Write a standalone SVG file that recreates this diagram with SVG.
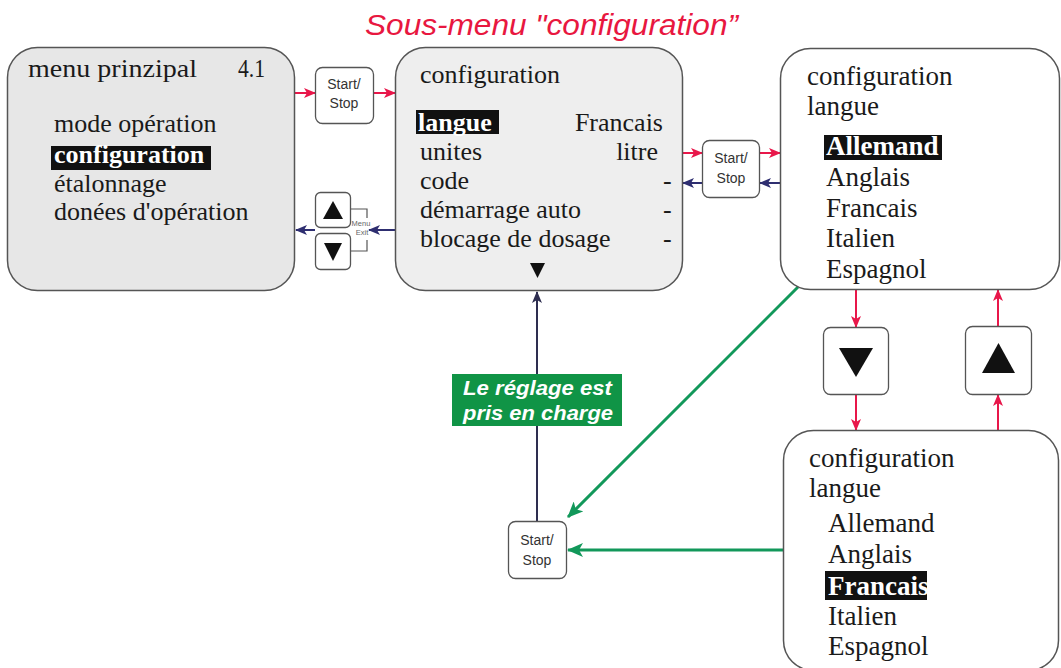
<svg xmlns="http://www.w3.org/2000/svg" width="1061" height="668" viewBox="0 0 1061 668">
<defs>
<style>
.box{stroke:#555;stroke-width:1.5}
.btn{fill:#fff;stroke:#555;stroke-width:1.3}
.t{fill:#1a1a1a}
.t26{font-size:26px}
.t27{font-size:27px}
.hl{fill:#111}
.hlt{fill:#fff;font-weight:bold}
.bt{font-family:'Liberation Sans',Arial,sans-serif;font-size:14px;fill:#333;text-anchor:middle}
.red{stroke:#e8174a;stroke-width:2;fill:none}
.blue{stroke:#2e2e70;stroke-width:2;fill:none}
.green{stroke:#12985a;stroke-width:3;fill:none}
.navy{stroke:#2e2e50;stroke-width:2;fill:none}
</style>
<marker id="aR" viewBox="0 0 12 10" refX="11" refY="5" markerWidth="12" markerHeight="10" markerUnits="userSpaceOnUse" orient="auto">
<path d="M0,0 L12,5 L0,10 L3,5 Z" fill="#e8174a"/>
</marker>
<marker id="aB" viewBox="0 0 12 10" refX="11" refY="5" markerWidth="12" markerHeight="10" markerUnits="userSpaceOnUse" orient="auto">
<path d="M0,0 L12,5 L0,10 L3,5 Z" fill="#2e2e70"/>
</marker>
<marker id="aN" viewBox="0 0 12 10" refX="11" refY="5" markerWidth="12" markerHeight="10" markerUnits="userSpaceOnUse" orient="auto">
<path d="M0,0 L12,5 L0,10 L3,5 Z" fill="#2e2e50"/>
</marker>
<marker id="aG" viewBox="0 0 16 14" refX="15" refY="7" markerWidth="16" markerHeight="14" markerUnits="userSpaceOnUse" orient="auto">
<path d="M0,0 L16,7 L0,14 L4,7 Z" fill="#12985a"/>
</marker>
<clipPath id="clipFr"><rect x="825" y="571" width="102" height="29"/></clipPath>
</defs>
<rect width="1061" height="668" fill="#fff"/>

<text x="365" y="35" font-family="Liberation Sans, Arial, sans-serif" font-size="29" font-style="italic" fill="#e8173f" textLength="373" lengthAdjust="spacingAndGlyphs">Sous-menu "configuration”</text>

<g id="connectors">
<line class="red" x1="295" y1="93" x2="315" y2="93" marker-end="url(#aR)"/>
<line class="red" x1="373" y1="93" x2="395" y2="93" marker-end="url(#aR)"/>
<line class="blue" x1="395" y1="230" x2="369" y2="230" marker-end="url(#aB)"/>
<line class="blue" x1="315" y1="230" x2="296" y2="230" marker-end="url(#aB)"/>
<line class="red" x1="683" y1="153" x2="702" y2="153" marker-end="url(#aR)"/>
<line class="red" x1="760" y1="153" x2="780" y2="153" marker-end="url(#aR)"/>
<line class="blue" x1="780" y1="183" x2="760" y2="183" marker-end="url(#aB)"/>
<line class="blue" x1="702" y1="183" x2="683" y2="183" marker-end="url(#aB)"/>
<line class="red" x1="856" y1="290" x2="856" y2="327" marker-end="url(#aR)"/>
<line class="red" x1="856" y1="395" x2="856" y2="430" marker-end="url(#aR)"/>
<line class="red" x1="998" y1="430" x2="998" y2="395" marker-end="url(#aR)"/>
<line class="red" x1="998" y1="327" x2="998" y2="290" marker-end="url(#aR)"/>
<line class="green" x1="798" y1="287" x2="568" y2="517" marker-end="url(#aG)"/>
<line class="green" x1="783" y1="550" x2="568" y2="550" marker-end="url(#aG)"/>
<line class="navy" x1="537" y1="521" x2="537" y2="292" marker-end="url(#aN)"/>
<polyline points="351,209 367,209 367,218" fill="none" stroke="#555" stroke-width="1.2"/>
<polyline points="367,240 367,251 351,251" fill="none" stroke="#555" stroke-width="1.2"/>
<text x="361" y="226" font-family="Liberation Sans, Arial, sans-serif" font-size="7.5" fill="#666" text-anchor="middle">Menu</text>
<text x="362" y="235" font-family="Liberation Sans, Arial, sans-serif" font-size="7.5" fill="#666" text-anchor="middle">Exit</text>
</g>

<g id="label-reglage" font-family="Liberation Sans, Arial, sans-serif">
<rect x="452" y="374" width="170" height="52" fill="#109446"/>
<text x="463" y="395" font-size="20" font-weight="bold" font-style="italic" fill="#fff" textLength="149" lengthAdjust="spacingAndGlyphs">Le réglage est</text>
<text x="463" y="420" font-size="20" font-weight="bold" font-style="italic" fill="#fff" textLength="150" lengthAdjust="spacingAndGlyphs">pris en charge</text>
</g>

<g id="menu-principal" font-family="Liberation Serif, DejaVu Serif, Times New Roman, serif">
<rect class="box" x="7.5" y="47.5" width="287" height="243" rx="30" fill="#e7e7e7"/>
<text class="t t26" x="28" y="77" textLength="169" lengthAdjust="spacingAndGlyphs">menu prinzipal</text>
<text class="t t26" x="238" y="77" textLength="27" lengthAdjust="spacingAndGlyphs">4.1</text>
<text class="t t26" x="54" y="132">mode opération</text>
<rect class="hl" x="51" y="146" width="160" height="24"/>
<text class="t t26 hlt" x="54" y="163">configuration</text>
<text class="t t26" x="54" y="192">étalonnage</text>
<text class="t t26" x="54" y="220">donées d'opération</text>
</g>

<g id="btn-startstop-1">
<rect class="btn" x="315.5" y="67.5" width="58" height="56" rx="7"/>
<text class="bt" x="344" y="89">Start/</text>
<text class="bt" x="344" y="108">Stop</text>
</g>

<g id="btn-up-small">
<rect class="btn" x="315.5" y="192.5" width="35" height="35" rx="5"/>
<path d="M323,219 L333,201 L343,219 Z" fill="#111"/>
</g>
<g id="btn-down-small">
<rect class="btn" x="315.5" y="233.5" width="35" height="36" rx="5"/>
<path d="M324,243 L342,243 L333,261 Z" fill="#111"/>
</g>

<g id="configuration" font-family="Liberation Serif, DejaVu Serif, Times New Roman, serif">
<rect class="box" x="395.5" y="47.5" width="287" height="243" rx="30" fill="#eeeeee"/>
<text class="t t26" x="420" y="83">configuration</text>
<rect class="hl" x="416" y="110" width="83" height="24"/>
<text class="t t26 hlt" x="418" y="131">langue</text>
<text class="t t26" x="663" y="131" text-anchor="end">Francais</text>
<text class="t t26" x="420" y="160">unites</text>
<text class="t t26" x="658" y="160" text-anchor="end">litre</text>
<text class="t t26" x="420" y="189">code</text>
<text class="t t26" x="663" y="189">-</text>
<text class="t t26" x="420" y="218">démarrage auto</text>
<text class="t t26" x="663" y="218">-</text>
<text class="t t26" x="420" y="247">blocage de dosage</text>
<text class="t t26" x="663" y="247">-</text>
<path d="M530,263 L545,263 L537.5,278 Z" fill="#111"/>
</g>

<g id="btn-startstop-2">
<rect class="btn" x="702.5" y="140.5" width="57" height="57" rx="7"/>
<text class="bt" x="731" y="163">Start/</text>
<text class="bt" x="731" y="183">Stop</text>
</g>

<g id="langue-allemand" font-family="Liberation Serif, DejaVu Serif, Times New Roman, serif">
<rect class="box" x="780.5" y="48.5" width="279" height="241" rx="30" fill="#fff"/>
<text class="t t27" x="807" y="85">configuration</text>
<text class="t t27" x="807" y="115">langue</text>
<rect class="hl" x="824" y="135" width="118" height="25"/>
<text class="t t27 hlt" x="826" y="155">Allemand</text>
<text class="t t27" x="826" y="186">Anglais</text>
<text class="t t27" x="826" y="217">Francais</text>
<text class="t t27" x="826" y="247">Italien</text>
<text class="t t27" x="826" y="278">Espagnol</text>
</g>

<g id="btn-down-large">
<rect class="btn" x="823.5" y="327.5" width="65" height="67" rx="7"/>
<path d="M839,348 L873,348 L856,377 Z" fill="#111"/>
</g>
<g id="btn-up-large">
<rect class="btn" x="965.5" y="326.5" width="66" height="68" rx="7"/>
<path d="M982,373 L1015,373 L998.5,343 Z" fill="#111"/>
</g>

<g id="langue-francais" font-family="Liberation Serif, DejaVu Serif, Times New Roman, serif">
<rect class="box" x="783.5" y="430.5" width="275" height="240" rx="30" fill="#fff"/>
<text class="t t27" x="809" y="467">configuration</text>
<text class="t t27" x="809" y="497">langue</text>
<text class="t t27" x="828" y="532">Allemand</text>
<text class="t t27" x="828" y="563">Anglais</text>
<rect class="hl" x="825" y="571" width="102" height="29"/>
<text class="t t27 hlt" x="828" y="595" clip-path="url(#clipFr)">Francais</text>
<text class="t t27" x="828" y="625">Italien</text>
<text class="t t27" x="828" y="655">Espagnol</text>
</g>

<g id="btn-startstop-3">
<rect class="btn" x="508.5" y="521.5" width="58" height="57" rx="7"/>
<text class="bt" x="537" y="545">Start/</text>
<text class="bt" x="537" y="565">Stop</text>
</g>
</svg>
